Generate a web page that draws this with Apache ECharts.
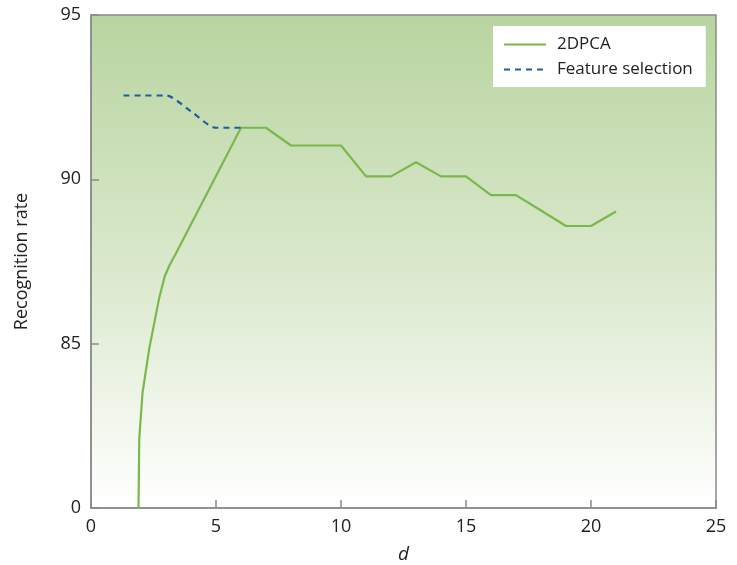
<!DOCTYPE html>
<html>
<head>
<meta charset="utf-8">
<script src="https://cdn.jsdelivr.net/npm/echarts@6/dist/echarts.min.js"></script>
<style>
  html, body { margin: 0; padding: 0; background: #fff; }
  #chart { width: 737px; height: 565px; }
</style>
</head>
<body>
<div id="chart"></div>
<script>
// values; the y axis bottom (80) is labelled "0" in the original
const pcaD = [1.9, 1.93, 2.06, 2.33, 2.73, 2.95, 3.15, 3.4, 6, 7, 8, 9, 10, 11, 12, 13, 14, 15, 16, 17, 18, 19, 20, 21];
const pcaRate = [80, 82.1, 83.5, 84.85, 86.4, 87.05, 87.4, 87.75, 91.57, 91.57, 91.03, 91.03, 91.03, 90.09, 90.09, 90.52, 90.09, 90.09, 89.52, 89.52, 89.05, 88.58, 88.58, 89.02];

const selD = [1.3, 2, 3, 4, 5, 6];
const selRate = [92.55, 92.55, 92.55, 92.07, 91.57, 91.57];

const yLabels = { 80: "0", 85: "85", 90: "90", 95: "95" };

const font = "Open Sans";

const chart = echarts.init(document.getElementById("chart"));

const pair = (xs, ys) => xs.map((x, i) => [x, ys[i]]);

const grey = "#8a8a8a";

chart.setOption({
  animation: false,
  textStyle: { fontFamily: font },
  grid: {
    left: 91,
    top: 15,
    right: 21,
    bottom: 57,
    outerBoundsMode: "none",
    containLabel: false,
    show: true,
    borderColor: grey,
    borderWidth: 1.5,
    backgroundColor: new echarts.graphic.LinearGradient(0, 0, 0, 1, [
      { offset: 0, color: "#b8d49f" },
      { offset: 0.5, color: "#d9e8cb" },
      { offset: 1, color: "#ffffff" },
    ]),
  },
  legend: {
    orient: "vertical",
    left: 493,
    top: 26,
    backgroundColor: "#ffffff",
    padding: [10, 13, 9, 10],
    itemWidth: 42,
    itemHeight: 14,
    itemGap: 8,
    itemStyle: { opacity: 0 },
    textStyle: { fontFamily: font, fontSize: 17, color: "#222", padding: [0, 0, 0, 6] },
    data: ["2DPCA", "Feature selection"],
  },
  xAxis: {
    type: "value",
    min: 0,
    max: 25,
    interval: 5,
    name: "d",
    nameLocation: "middle",
    nameGap: 37,
    nameTextStyle: { fontFamily: font, fontSize: 19, fontStyle: "italic", color: "#222" },
    axisLine: { lineStyle: { color: grey, width: 1.5 } },
    axisTick: { inside: true, length: 8, lineStyle: { color: grey, width: 1.5 } },
    axisLabel: { fontSize: 18, color: "#222", margin: 10 },
    splitLine: { show: false },
  },
  yAxis: {
    type: "value",
    min: 80,
    max: 95,
    interval: 5,
    name: "Recognition rate",
    nameLocation: "middle",
    nameGap: 60,
    nameTextStyle: { fontFamily: font, fontSize: 18, color: "#222" },
    axisLine: { show: true, lineStyle: { color: grey, width: 1.5 } },
    axisTick: { show: true, inside: true, length: 8, lineStyle: { color: grey, width: 1.5 } },
    axisLabel: { fontSize: 18, color: "#222", margin: 10, formatter: (v) => yLabels[v] },
    splitLine: { show: false },
  },
  series: [
    {
      name: "2DPCA",
      type: "line",
      symbol: "none",
      smooth: false,
      color: "#7ab84c",
      lineStyle: { width: 2.2, color: "#7ab84c" },
      data: pair(pcaD, pcaRate),
    },
    {
      name: "Feature selection",
      type: "line",
      symbol: "none",
      smooth: 0.25,
      color: "#1c5f9e",
      lineStyle: { width: 2.2, color: "#1c5f9e", type: [6, 5] },
      data: pair(selD, selRate),
    },
  ],
});
</script>
</body>
</html>
